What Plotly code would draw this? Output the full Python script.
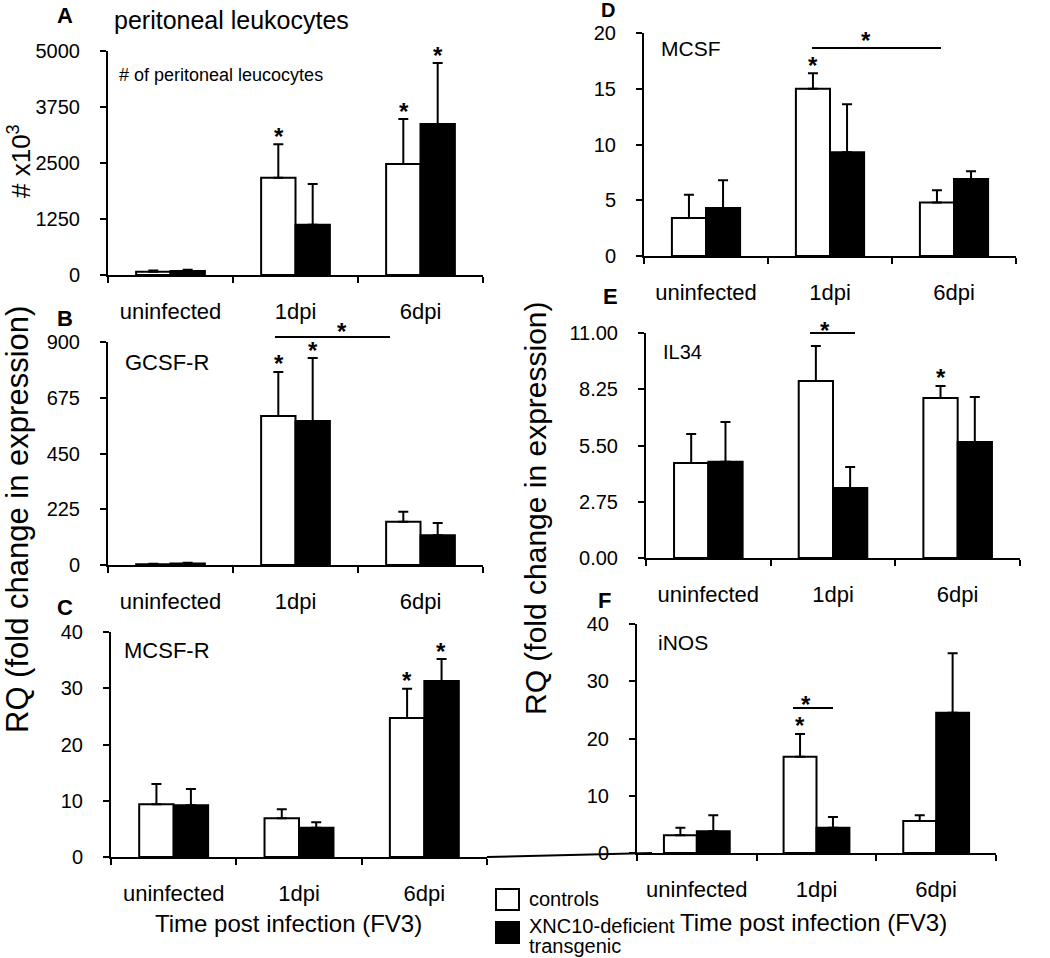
import plotly.graph_objects as go

W, H = 1050, 958
FONT = "Liberation Sans, Arial, sans-serif"

# ---------------- data ----------------
categories = ["uninfected", "1dpi", "6dpi"]
series_names = ["controls", "XNC10-deficient transgenic"]

# A: peritoneal leukocytes (# x10^3)
leuk_ctrl = [70, 2170, 2480]
leuk_ctrl_err = [30, 750, 1000]
leuk_tg = [90, 1120, 3370]
leuk_tg_err = [25, 910, 1360]

# B: GCSF-R
gcsfr_ctrl = [3, 601, 175]
gcsfr_ctrl_err = [2, 178, 40]
gcsfr_tg = [6, 581, 120]
gcsfr_tg_err = [3, 254, 50]

# C: MCSF-R
mcsfr_ctrl = [9.4, 6.9, 24.7]
mcsfr_ctrl_err = [3.6, 1.6, 5.2]
mcsfr_tg = [9.2, 5.2, 31.3]
mcsfr_tg_err = [2.9, 1.0, 3.9]

# D: MCSF
mcsf_ctrl = [3.4, 15.0, 4.8]
mcsf_ctrl_err = [2.1, 1.4, 1.1]
mcsf_tg = [4.3, 9.3, 6.9]
mcsf_tg_err = [2.5, 4.3, 0.7]

# E: IL34
il34_ctrl = [4.64, 8.65, 7.82]
il34_ctrl_err = [1.42, 1.71, 0.59]
il34_tg = [4.70, 3.42, 5.67]
il34_tg_err = [1.95, 1.03, 2.20]

# F: iNOS
inos_ctrl = [3.1, 16.8, 5.6]
inos_ctrl_err = [1.3, 4.0, 1.0]
inos_tg = [3.8, 4.4, 24.5]
inos_tg_err = [2.8, 1.9, 10.4]

# tick values
ticks_A = [0, 1250, 2500, 3750, 5000]
ticks_B = [0, 225, 450, 675, 900]
ticks_C = [0, 10, 20, 30, 40]
ticks_D = [0, 5, 10, 15, 20]
ticks_E = [0, 2.75, 5.5, 8.25, 11]
ticks_F = [0, 10, 20, 30, 40]

# significance stars above single bars: (panel, series 0=ctrl/1=tg, category index)
star_marks = [
    ("A", 0, 1), ("A", 0, 2), ("A", 1, 2),
    ("B", 0, 1), ("B", 1, 1),
    ("C", 0, 2), ("C", 1, 2),
    ("D", 0, 1),
    ("E", 0, 2),
    ("F", 0, 1),
]

# ---------------- layout helpers ----------------
def px(x):
    return x / W

def py(y):
    return 1 - y / H

panels = [
    dict(key="A", n=1, ctrl=leuk_ctrl, ce=leuk_ctrl_err, tg=leuk_tg, te=leuk_tg_err,
         ticks=ticks_A, fmt="", x0=108, x1=483, ytop=51, ybot=275),
    dict(key="B", n=2, ctrl=gcsfr_ctrl, ce=gcsfr_ctrl_err, tg=gcsfr_tg, te=gcsfr_tg_err,
         ticks=ticks_B, fmt="", x0=108, x1=483, ytop=342, ybot=565),
    dict(key="C", n=3, ctrl=mcsfr_ctrl, ce=mcsfr_ctrl_err, tg=mcsfr_tg, te=mcsfr_tg_err,
         ticks=ticks_C, fmt="", x0=111, x1=487, ytop=632, ybot=857),
    dict(key="D", n=4, ctrl=mcsf_ctrl, ce=mcsf_ctrl_err, tg=mcsf_tg, te=mcsf_tg_err,
         ticks=ticks_D, fmt="", x0=644, x1=1016, ytop=33, ybot=256),
    dict(key="E", n=5, ctrl=il34_ctrl, ce=il34_ctrl_err, tg=il34_tg, te=il34_tg_err,
         ticks=ticks_E, fmt=".2f", x0=646, x1=1020, ytop=333, ybot=558),
    dict(key="F", n=6, ctrl=inos_ctrl, ce=inos_ctrl_err, tg=inos_tg, te=inos_tg_err,
         ticks=ticks_F, fmt="", x0=637, x1=996, ytop=624, ybot=853),
]

fig = go.Figure()
layout = dict(
    width=W, height=H, autosize=False,
    margin=dict(l=0, r=0, t=0, b=0, pad=0, autoexpand=False),
    paper_bgcolor="white", plot_bgcolor="white",
    barmode="group", bargap=0.45, bargroupgap=0,
    showlegend=False, hovermode=False,
    font=dict(family=FONT, color="black"),
)

annotations = []
shapes = []

for p in panels:
    n = p["n"]
    xa, ya = f"x{n}", f"y{n}"
    for vals, errs, fill, name in [(p["ctrl"], p["ce"], "white", series_names[0]),
                                   (p["tg"], p["te"], "black", series_names[1])]:
        fig.add_trace(go.Bar(
            x=categories, y=vals, name=name,
            marker=dict(color=fill, line=dict(color="black", width=2)),
            error_y=dict(type="data", array=errs, arrayminus=[0] * len(errs),
                         symmetric=False, color="black", thickness=2, width=5),
            xaxis=xa, yaxis=ya, showlegend=False,
        ))
    axname = "" if n == 1 else str(n)
    layout[f"xaxis{axname}"] = dict(
        domain=[px(p["x0"]), px(p["x1"])], anchor=ya, automargin=False,
        type="category", categoryorder="array", categoryarray=categories,
        range=[-0.5, 2.5], tickson="boundaries",
        ticks="outside", ticklen=6, tickwidth=2, tickcolor="black",
        showline=True, linewidth=2, linecolor="black",
        showgrid=False, zeroline=False,
        tickfont=dict(size=22, family=FONT, color="black"),
        ticklabelstandoff=16, fixedrange=True,
    )
    ymax = p["ticks"][-1]
    layout[f"yaxis{axname}"] = dict(
        domain=[py(p["ybot"]), py(p["ytop"])], anchor=xa, automargin=False,
        range=[0, ymax], tickvals=p["ticks"], tickformat=p["fmt"],
        ticks="outside", ticklen=6, tickwidth=2, tickcolor="black",
        showline=True, linewidth=2, linecolor="black",
        showgrid=False, zeroline=False,
        tickfont=dict(size=20, family=FONT, color="black"),
        ticklabelstandoff=16, fixedrange=True,
    )
    p["xa"], p["ya"] = xa, ya

pmap = {p["key"]: p for p in panels}
for key, s, ci in star_marks:
    p = pmap[key]
    vals = p["ctrl"] if s == 0 else p["tg"]
    errs = p["ce"] if s == 0 else p["te"]
    annotations.append(dict(
        x=categories[ci], y=vals[ci] + errs[ci], xref=p["xa"], yref=p["ya"],
        text="<b>*</b>", showarrow=False, xshift=-17 if s == 0 else 17,
        yanchor="middle", yshift=8, font=dict(size=24, family=FONT, color="black"),
    ))

# significance bars between groups (paper positions)
sig_bars = [
    (275, 390, 337, 335, 326),   # B
    (812, 941, 48, 873, 34),     # D
    (810, 855, 333, 832, 325),   # E
    (793, 833, 708, 813, 698),   # F
]
for x0, x1, yl, xs, ys in sig_bars:
    shapes.append(dict(type="line", xref="paper", yref="paper",
                       x0=px(x0), x1=px(x1), y0=py(yl), y1=py(yl),
                       line=dict(color="black", width=2)))
    annotations.append(dict(x=px(xs), y=py(ys), xref="paper", yref="paper",
                            text="<b>*</b>", showarrow=False, yanchor="middle", yshift=-6,
                            font=dict(size=24, family=FONT, color="black")))

# stray connecting line between C and F axes
shapes.append(dict(type="line", xref="paper", yref="paper",
                   x0=px(487), x1=px(652), y0=py(857), y1=py(853),
                   line=dict(color="black", width=2)))

def text(x, y, t, size, bold=False, anchor="left", angle=0):
    annotations.append(dict(
        x=px(x), y=py(y), xref="paper", yref="paper",
        text=f"<b>{t}</b>" if bold else t, showarrow=False,
        xanchor=anchor, yanchor="middle", textangle=angle,
        font=dict(size=size, family=FONT, color="black"),
    ))

# panel letters
for letter, x, y, s in [("A", 55, 16, 22), ("B", 55, 318, 22), ("C", 55, 607, 22),
                        ("D", 599, 10, 20), ("E", 601, 297, 22), ("F", 596, 600, 22)]:
    text(x, y, letter, s, bold=True)

# panel titles
text(112, 20, "peritoneal leukocytes", 25)
text(117, 75, "# of peritoneal leucocytes", 18)
text(123, 362, "GCSF-R", 22)
text(122, 650, "MCSF-R", 22)
text(659, 48, "MCSF", 21)
text(661, 352, "IL34", 20)
text(656, 642, "iNOS", 21)

# axis titles
text(19, 161, "# x10<sup>3</sup>", 26, anchor="center", angle=-90)
text(17, 520, "RQ (fold change in expression)", 31, anchor="center", angle=-90)
text(535, 508, "RQ (fold change in expression)", 30, anchor="center", angle=-90)
text(288, 923, "Time post infection (FV3)", 24, anchor="center")
text(813, 922, "Time post infection (FV3)", 24, anchor="center")

# legend
shapes.append(dict(type="rect", xref="paper", yref="paper",
                   x0=px(496), x1=px(519), y0=py(910), y1=py(889),
                   line=dict(color="black", width=2), fillcolor="white"))
shapes.append(dict(type="rect", xref="paper", yref="paper",
                   x0=px(496), x1=px(519), y0=py(943), y1=py(922),
                   line=dict(color="black", width=2), fillcolor="black"))
text(527, 899, "controls", 20)
text(527, 926, "XNC10-deficient", 20)
text(527, 946, "transgenic", 20)

layout["annotations"] = annotations
layout["shapes"] = shapes
fig.update_layout(**layout)

fig.write_html(
    "out.html",
    config={"displayModeBar": False, "staticPlot": True},
    post_script="document.body.style.margin='0';document.body.style.padding='0';document.body.style.overflow='hidden';",
)
